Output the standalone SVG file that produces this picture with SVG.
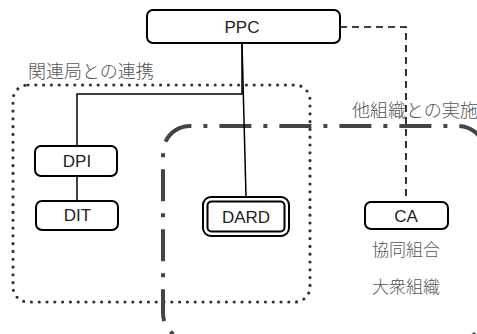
<svg xmlns="http://www.w3.org/2000/svg" width="477" height="334" viewBox="0 0 477 334">
<style>
.box{fill:#fff;stroke:#000;stroke-width:2}
.lt{font-family:"Liberation Sans",Arial,sans-serif;font-size:17px;fill:#222;text-anchor:middle}
.jp{font-family:"Noto Sans CJK JP",sans-serif;font-size:17px;font-weight:300;fill:#555}
.grp-dot{fill:none;stroke:#333;stroke-width:3.2;stroke-linecap:round;stroke-dasharray:0 7.8}
.grp-dd{fill:none;stroke:#444;stroke-width:4;stroke-dasharray:32 12 4 12;stroke-dashoffset:26.1}
.solid{fill:none;stroke:#000;stroke-width:1.5}
.dash{fill:none;stroke:#000;stroke-width:1.6;stroke-dasharray:7 5}
</style>
<rect width="477" height="334" fill="#fff"/>
<g id="group-kanren">
<rect class="grp-dot" x="13" y="85" width="297" height="217" rx="15"/>
<text class="jp" x="28" y="78" style="font-size:18px">関連局との連携</text>
</g>
<g id="group-jisshi">
<path class="grp-dd" d="M190,340 A27,27 0 0 1 163,313 V153 A27,27 0 0 1 190,126 H458 A27,27 0 0 1 485,153 V313 A27,27 0 0 1 458,340 H190"/>
<text class="jp" x="352" y="117" style="font-size:18px">他組織との実施</text>
</g>
<g id="connectors">
<polyline class="solid" points="242,43 242,94 77,94 77,146"/>
<line class="solid" x1="242" y1="43" x2="246" y2="197"/>
<line class="solid" x1="77" y1="176" x2="77" y2="201"/>
<polyline class="dash" points="340,27 406,27 406,202"/>
</g>
<g id="node-ppc">
<rect class="box" x="147" y="10" width="193" height="33" rx="6"/>
<text class="lt" x="242" y="33">PPC</text>
</g>
<g id="node-dpi">
<rect class="box" x="35" y="146" width="82" height="30" rx="6"/>
<text class="lt" x="77" y="167">DPI</text>
</g>
<g id="node-dit">
<rect class="box" x="36" y="201" width="82" height="29" rx="6"/>
<text class="lt" x="77.5" y="221">DIT</text>
</g>
<g id="node-dard">
<rect class="box" x="203" y="197" width="86" height="39" rx="8"/>
<rect class="box" x="207.5" y="201.5" width="77" height="30" rx="4"/>
<text class="lt" x="246" y="223">DARD</text>
</g>
<g id="node-ca">
<rect class="box" x="365" y="202" width="83" height="27" rx="6"/>
<text class="lt" x="406" y="222">CA</text>
<text class="jp" x="406" y="256" text-anchor="middle">協同組合</text>
<text class="jp" x="406" y="293" text-anchor="middle">大衆組織</text>
</g>
</svg>
